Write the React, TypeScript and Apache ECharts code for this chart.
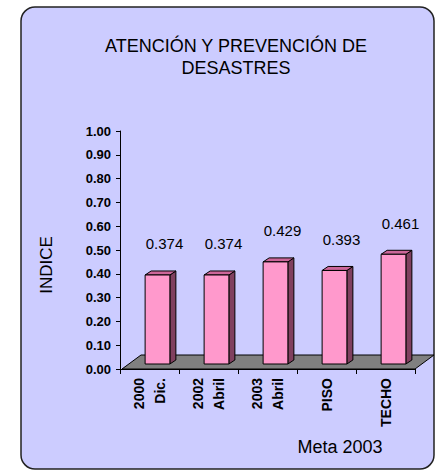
import React, { useEffect, useRef } from "react";
import * as echarts from "echarts";

const categories = ["2000\nDic.", "2002\nAbril", "2003\nAbril", "PISO", "TECHO"];
const values = [0.374, 0.374, 0.429, 0.393, 0.461];
const yTicks = { min: 0, max: 1, interval: 0.1 };
const titleText = "ATENCIÓN Y PREVENCIÓN DE\nDESASTRES";
const yName = "INDICE";
const xName = "Meta 2003";

const FONT = "Liberation Sans, Arial, sans-serif";

export default function App() {
  const ref = useRef<HTMLDivElement>(null);
  useEffect(() => {
    if (!ref.current) return;
    const chart = echarts.init(ref.current, null, { renderer: "svg" });
    const option: any = {
      animation: false,
      backgroundColor: "#ffffff",
      title: {
        text: titleText,
        left: 231,
        top: 30,
        textAlign: "center",
        textStyle: {
          fontFamily: FONT,
          fontSize: 18,
          fontWeight: "normal",
          color: "#000",
          lineHeight: 22,
        },
      },
      grid: { left: 120, top: 131, width: 295, height: 238, containLabel: false },
      xAxis: {
        type: "category",
        data: categories,
        axisLine: { lineStyle: { color: "#000", width: 1 } },
        axisTick: { show: true, length: 5, lineStyle: { color: "#000" } },
        axisLabel: {
          rotate: 90,
          margin: 9,
          fontFamily: FONT,
          fontSize: 14,
          fontWeight: "bold",
          color: "#000",
          lineHeight: 21,
          interval: 0,
        },
        splitLine: { show: false },
      },
      yAxis: {
        type: "value",
        min: yTicks.min,
        max: yTicks.max,
        interval: yTicks.interval,
        axisLine: { show: true, lineStyle: { color: "#000", width: 1 } },
        axisTick: { show: true, length: 4, lineStyle: { color: "#000" } },
        axisLabel: {
          margin: 9,
          fontFamily: FONT,
          fontSize: 13,
          fontWeight: "bold",
          color: "#000",
          formatter: (v: number) => v.toFixed(2),
        },
        splitLine: { show: false },
      },
      graphic: [
        {
          type: "rect",
          z: -10,
          shape: { x: 21, y: 7, width: 413, height: 462, r: 14 },
          style: { fill: "#CCCCFF", stroke: "#222", lineWidth: 1.5 },
        },
        {
          type: "text",
          x: 46,
          y: 265,
          rotation: Math.PI / 2,
          style: {
            text: yName,
            fontFamily: FONT,
            fontSize: 17,
            fill: "#000",
            align: "center",
            verticalAlign: "middle",
          },
        },
        {
          type: "text",
          x: 340,
          y: 447,
          style: {
            text: xName,
            fontFamily: FONT,
            fontSize: 18,
            fill: "#000",
            align: "center",
            verticalAlign: "middle",
          },
        },
      ],
      series: [
        {
          type: "custom",
          clip: false,
          z: 1,
          data: [[0, 0]],
          renderItem: (params: any, api: any) => {
            const band = api.size([1, 0])[0];
            const p0 = api.coord([0, 0]);
            const p1 = api.coord([categories.length - 1, 0]);
            const left = p0[0] - band / 2;
            const right = p1[0] + band / 2;
            const y0 = p0[1];
            const dx = 19;
            const dy = -14;
            return {
              type: "polygon",
              shape: {
                points: [
                  [left + 2, y0],
                  [right, y0],
                  [right + dx, y0 + dy],
                  [left + 2 + dx, y0 + dy],
                ],
              },
              style: { fill: "#808080", stroke: "#000", lineWidth: 1 },
            };
          },
        },
        {
          type: "custom",
          clip: false,
          z: 3,
          data: values.map((v, i) => [i, v]),
          renderItem: (params: any, api: any) => {
            const i = api.value(0);
            const v = api.value(1);
            const base = api.coord([i, 0]);
            const top = api.coord([i, v]);
            const band = api.size([1, 0])[0];
            const w = band * 0.42;
            const ox = 8;
            const oy = -5;
            const fx = base[0] + ox - w / 2;
            const by = base[1] + oy;
            const ty = top[1] + oy;
            const ddx = 6;
            const ddy = -4;
            const stroke = { stroke: "#000", lineWidth: 1 };
            return {
              type: "group",
              children: [
                {
                  type: "polygon",
                  shape: {
                    points: [
                      [fx + w, ty],
                      [fx + w + ddx, ty + ddy],
                      [fx + w + ddx, by + ddy],
                      [fx + w, by],
                    ],
                  },
                  style: { fill: "#80405F", ...stroke },
                },
                {
                  type: "polygon",
                  shape: {
                    points: [
                      [fx, ty],
                      [fx + ddx, ty + ddy],
                      [fx + w + ddx, ty + ddy],
                      [fx + w, ty],
                    ],
                  },
                  style: { fill: "#CC6699", ...stroke },
                },
                {
                  type: "rect",
                  shape: { x: fx, y: ty, width: w, height: by - ty },
                  style: { fill: "#FF99CC", ...stroke },
                },
                {
                  type: "text",
                  x: fx + w / 2 + 7,
                  y: ty - 31,
                  style: {
                    text: v.toFixed(3),
                    fontFamily: FONT,
                    fontSize: 15,
                    fill: "#000",
                    align: "center",
                    verticalAlign: "middle",
                  },
                },
              ],
            };
          },
        },
      ],
    };
    chart.setOption(option);
    return () => chart.dispose();
  }, []);
  return (
    <div
      ref={ref}
      style={{ position: "fixed", left: 0, top: 0, width: 437, height: 473 }}
    />
  );
}
